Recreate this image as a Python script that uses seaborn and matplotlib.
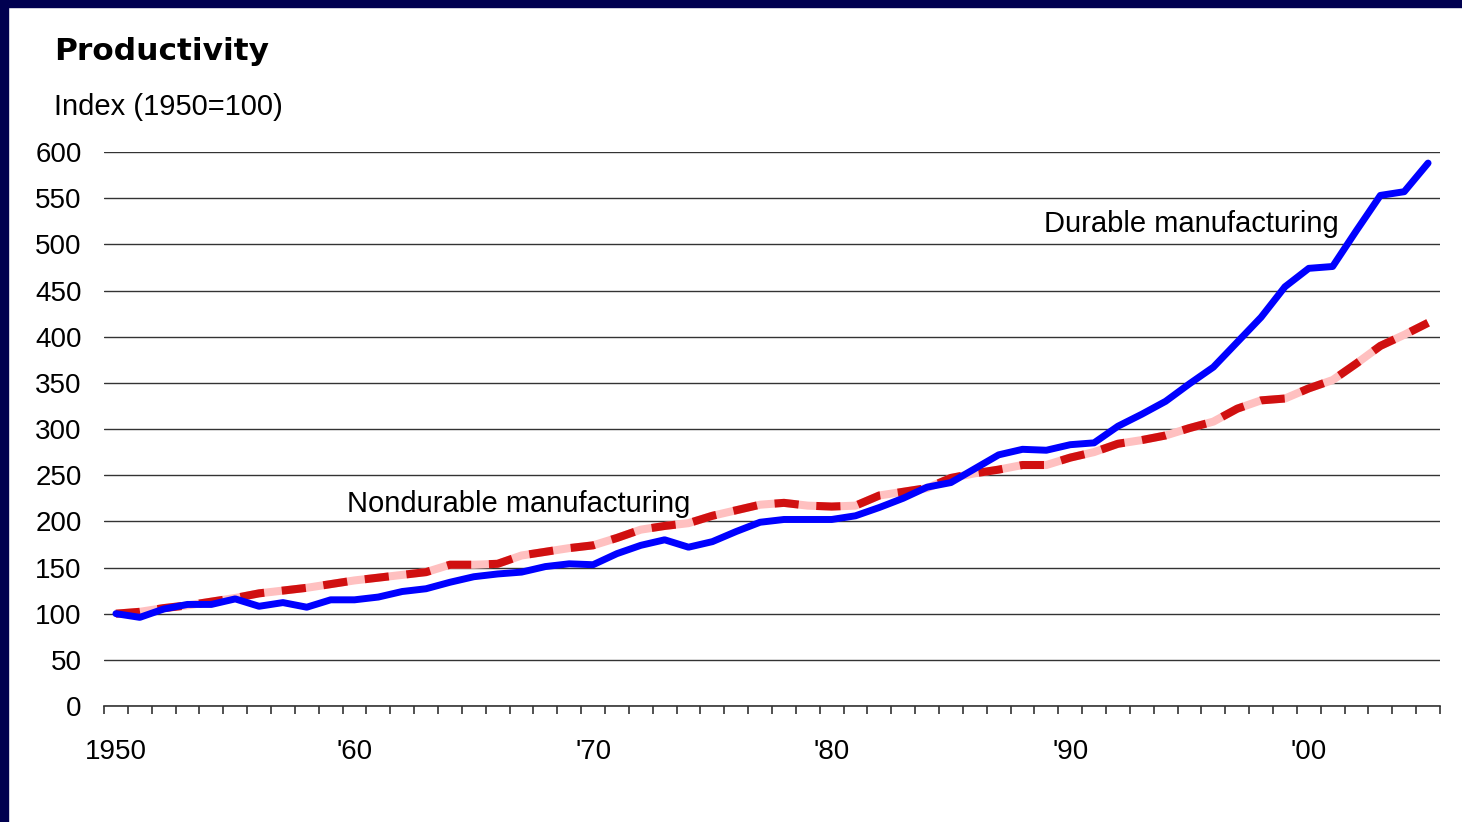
import numpy as np
import pandas as pd
import matplotlib
matplotlib.use('Agg')
import matplotlib.pyplot as plt
import matplotlib.patches as mpatches
from matplotlib.ticker import FixedLocator
import seaborn as sns

years = list(range(1950, 2006))
durable = [100, 96, 105, 110, 110, 116, 108, 112, 107, 115,
           115, 118, 124, 127, 134, 140, 143, 145, 151, 154,
           153, 165, 174, 180, 172, 178, 189, 199, 202, 202,
           202, 206, 215, 225, 237, 242, 257, 272, 278, 277,
           283, 285, 303, 316, 330, 349, 367, 394, 421, 454,
           474, 476, 515, 553, 557, 588]
nondurable = [100, 102, 106, 109, 113, 117, 122, 125, 128, 132,
              136, 139, 142, 145, 153, 153, 154, 163, 167, 171,
              174, 182, 191, 195, 198, 206, 212, 218, 220, 217,
              216, 217, 228, 232, 236, 247, 252, 256, 261, 261,
              269, 275, 284, 288, 293, 301, 308, 322, 331, 333,
              344, 353, 371, 390, 402, 415]
label_years = [1950, 1960, 1970, 1980, 1990, 2000]
label_text = ["1950", "'60", "'70", "'80", "'90", "'00"]
yticks = list(range(0, 601, 50))

df = pd.DataFrame({"year": years, "durable": durable, "nondurable": nondurable})

sns.set_style("white")
plt.rcParams['font.family'] = ['Liberation Sans', 'DejaVu Sans']
plt.rcParams['text.color'] = 'black'
plt.rcParams['xtick.color'] = 'black'
plt.rcParams['ytick.color'] = 'black'

fig = plt.figure(figsize=(14.62, 8.22), dpi=100)
fig.patch.set_facecolor("white")
navy = "#000050"
fig.patches.append(mpatches.Rectangle((0, 1 - 7 / 822), 1, 7 / 822, transform=fig.transFigure,
                                      color=navy, zorder=0))
fig.patches.append(mpatches.Rectangle((0, 0), 8 / 1462, 1, transform=fig.transFigure,
                                      color=navy, zorder=0))

ax = fig.add_axes([104 / 1462, 1 - 706 / 822, (1440 - 104) / 1462, (706 - 152) / 822])

# nondurable: pink base with red dashes on top
sns.lineplot(data=df, x="year", y="nondurable", ax=ax, color="#FFC0C0", linewidth=5.8,
             solid_capstyle="butt", zorder=3)
sns.lineplot(data=df, x="year", y="nondurable", ax=ax, color="#D01010", linewidth=5.8,
             zorder=4)
ax.lines[-1].set_dashes((3, 2.2))
ax.lines[-1].set_dash_capstyle("butt")
sns.lineplot(data=df, x="year", y="durable", ax=ax, color="#0000FF", linewidth=5.0,
             zorder=5)

ax.set_xlim(1949.5, 2005.5)
ax.set_ylim(0, 600)
ax.set_yticks(yticks)
ax.yaxis.grid(True, color="#333333", linewidth=1.0)
ax.set_axisbelow(True)
for s in ["left", "right", "top"]:
    ax.spines[s].set_visible(False)
ax.spines["bottom"].set_color("#333333")
ax.spines["bottom"].set_linewidth(1.2)

ax.xaxis.set_major_locator(FixedLocator(label_years))
ax.set_xticklabels(label_text)
ax.xaxis.set_minor_locator(FixedLocator(np.arange(1949.5, 2006, 1.0)))
ax.tick_params(axis="x", which="major", length=0, pad=24, labelsize=20)
ax.tick_params(axis="x", which="minor", length=6, width=1.2, color="#333333", direction="out",
               bottom=True)
ax.tick_params(axis="y", length=0, pad=16, labelsize=20)
ax.set_xlabel("")
ax.set_ylabel("")

ax.text(1988.9, 522, "Durable manufacturing", fontsize=21, ha="left", va="center")
ax.text(1959.7, 219, "Nondurable manufacturing", fontsize=21, ha="left", va="center")

fig.text(54 / 1462, 1 - 51 / 822, "Productivity", fontsize=22.5, fontweight="bold",
         family="DejaVu Sans", ha="left", va="center")
fig.text(54 / 1462, 1 - 107 / 822, "Index (1950=100)", fontsize=21, ha="left", va="center")

fig.savefig("out.png", dpi=100, facecolor=fig.get_facecolor())
